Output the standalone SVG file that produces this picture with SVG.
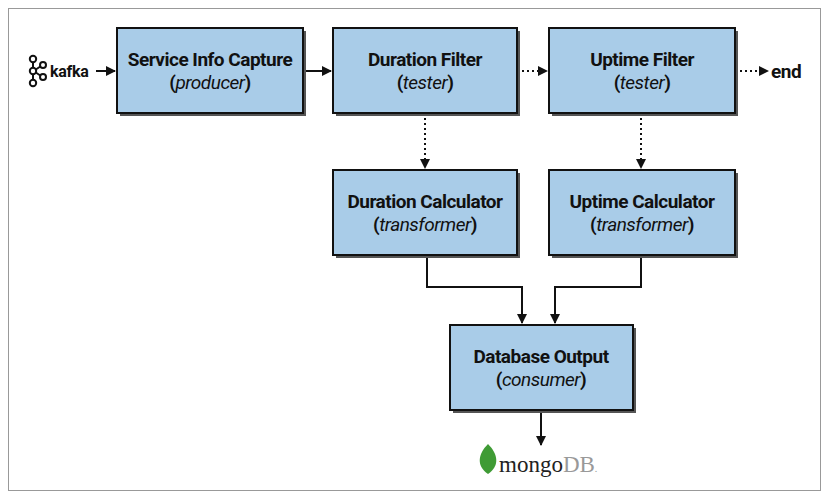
<svg xmlns="http://www.w3.org/2000/svg" width="829" height="500" viewBox="0 0 829 500">
<style>
.box{fill:#a9cce8;stroke:#111;stroke-width:2}
.sh{fill:#555}
.t{font-family:"Roboto","Liberation Sans",sans-serif;font-size:19px;font-weight:700;fill:#111;text-anchor:middle;letter-spacing:-0.5px}
.i{font-style:italic;font-weight:400}
.c{fill:none;stroke:#111;stroke-width:2}
.d{stroke-dasharray:2 3}
</style>
<defs><marker id="a" markerWidth="10" markerHeight="10" refX="9" refY="5" orient="auto" markerUnits="userSpaceOnUse"><path d="M0,0 L10,5 L0,10z" fill="#111"/></marker></defs>
<rect x="8.5" y="8.5" width="812" height="482" fill="#fff" stroke="#999"/>
<g id="connectors">
<path class="c" d="M96,71 H115" marker-end="url(#a)"/>
<path class="c" d="M303,71 H331" marker-end="url(#a)"/>
<path class="c d" d="M517,71 H547" marker-end="url(#a)"/>
<path class="c d" d="M735,71 H768" marker-end="url(#a)"/>
<path class="c d" d="M425,113 V168" marker-end="url(#a)"/>
<path class="c d" d="M641,113 V168" marker-end="url(#a)"/>
<path class="c" d="M427,255 V287 H522 V323" marker-end="url(#a)"/>
<path class="c" d="M641,255 V287 H555 V323" marker-end="url(#a)"/>
<path class="c" d="M541,410 V445" marker-end="url(#a)"/>
</g>
<g id="kafka">
<g fill="none" stroke="#111" stroke-width="2"><circle cx="33" cy="59" r="3.2"/><circle cx="33" cy="71" r="3.2"/><circle cx="33" cy="83" r="3.2"/><circle cx="43" cy="65" r="3"/><circle cx="43" cy="77" r="3"/><path d="M33,62 V68 M33,74 V80 M35.8,69.5 L40.3,66.5 M35.8,72.5 L40.3,75.5"/></g>
<text x="50" y="77" font-family="Roboto,'Liberation Sans',sans-serif" font-size="16" font-weight="700" fill="#111" letter-spacing="-0.3">kafka</text>
</g>
<text x="771" y="78" font-family="Roboto,'Liberation Sans',sans-serif" font-size="19" font-weight="700" fill="#111" letter-spacing="-0.5">end</text>
<g id="n1"><rect class="sh" x="120" y="31" width="186" height="85"/><rect class="box" x="117" y="28" width="186" height="85"/><text class="t" x="210" y="66">Service Info Capture</text><text class="t" x="210" y="89">(<tspan class="i">producer</tspan>)</text></g>
<g id="n2"><rect class="sh" x="336" y="31" width="184" height="85"/><rect class="box" x="333" y="28" width="184" height="85"/><text class="t" x="425" y="66">Duration Filter</text><text class="t" x="425" y="89">(<tspan class="i">tester</tspan>)</text></g>
<g id="n3"><rect class="sh" x="552" y="31" width="186" height="85"/><rect class="box" x="549" y="28" width="186" height="85"/><text class="t" x="642" y="66">Uptime Filter</text><text class="t" x="642" y="89">(<tspan class="i">tester</tspan>)</text></g>
<g id="n4"><rect class="sh" x="336" y="173" width="184" height="85"/><rect class="box" x="333" y="170" width="184" height="85"/><text class="t" x="425" y="208">Duration Calculator</text><text class="t" x="425" y="231">(<tspan class="i">transformer</tspan>)</text></g>
<g id="n5"><rect class="sh" x="552" y="173" width="186" height="85"/><rect class="box" x="549" y="170" width="186" height="85"/><text class="t" x="642" y="208">Uptime Calculator</text><text class="t" x="642" y="231">(<tspan class="i">transformer</tspan>)</text></g>
<g id="n6"><rect class="sh" x="453" y="328" width="183" height="85"/><rect class="box" x="450" y="325" width="183" height="85"/><text class="t" x="541" y="363">Database Output</text><text class="t" x="541" y="386">(<tspan class="i">consumer</tspan>)</text></g>
<g id="mongo">
<path d="M488,444 C478,454 476,466 488,474 C500,466 498,454 488,444z" fill="#3f9b35"/>
<text x="499" y="472" font-family="'Liberation Serif',serif" font-size="23" fill="#222">mongo<tspan fill="#999">DB</tspan><tspan fill="#999" font-size="10">.</tspan></text>
</g>
</svg>
